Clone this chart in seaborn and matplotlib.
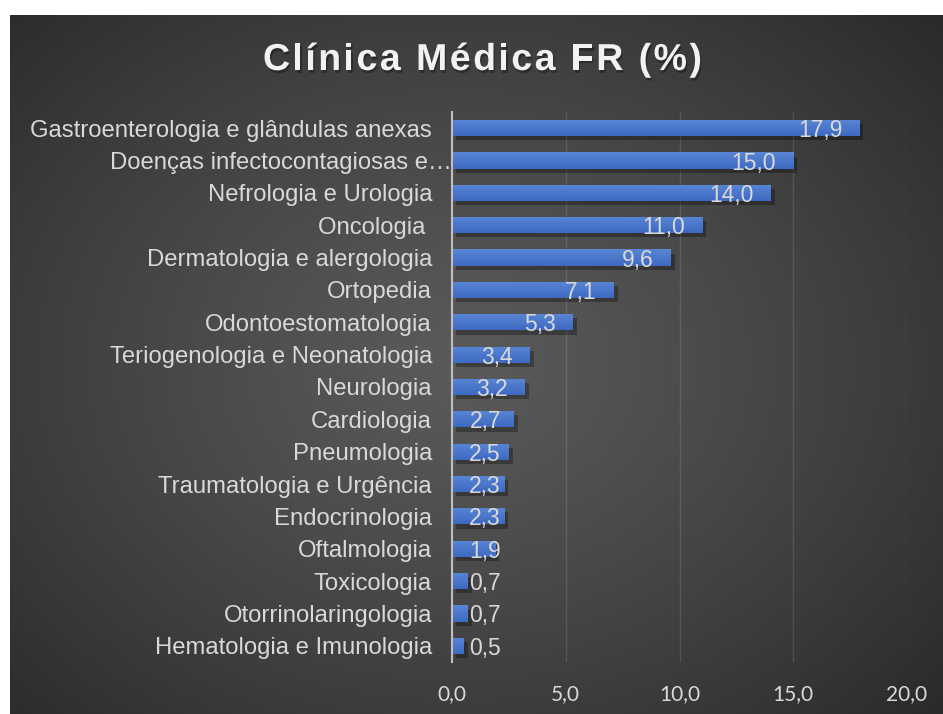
import matplotlib
matplotlib.use("Agg")
import matplotlib.pyplot as plt
import matplotlib.patheffects as pe
from matplotlib.colors import LinearSegmentedColormap
from matplotlib.font_manager import FontProperties
import matplotlib.transforms as mtransforms
import numpy as np
import seaborn as sns

categories = [
    "Gastroenterologia e glândulas anexas",
    "Doenças infectocontagiosas e…",
    "Nefrologia e Urologia",
    "Oncologia ",
    "Dermatologia e alergologia",
    "Ortopedia",
    "Odontoestomatologia",
    "Teriogenologia e Neonatologia",
    "Neurologia",
    "Cardiologia",
    "Pneumologia",
    "Traumatologia e Urgência",
    "Endocrinologia",
    "Oftalmologia",
    "Toxicologia",
    "Otorrinolaringologia",
    "Hematologia e Imunologia",
]
values = [17.9, 15.0, 14.0, 11.0, 9.6, 7.1, 5.3, 3.4, 3.2, 2.7, 2.5, 2.3, 2.3, 1.9, 0.7, 0.7, 0.5]
value_labels = ["17,9", "15,0", "14,0", "11,0", "9,6", "7,1", "5,3", "3,4", "3,2",
                "2,7", "2,5", "2,3", "2,3", "1,9", "0,7", "0,7", "0,5"]
x_ticks = [0, 5, 10, 15, 20]
x_tick_labels = ["0,0", "5,0", "10,0", "15,0", "20,0"]
title = "Clínica Médica FR (%)"

TEXT = "#d9d9d9"
BAR = "#4472C4"

sns.set_style("dark")
plt.rcParams["font.family"] = ["Liberation Sans", "DejaVu Sans"]

W, H = 943, 714
fig = plt.figure(figsize=(W / 100, H / 100), dpi=100)
fig.patch.set_facecolor("white")

# dark radial background panel
bg = fig.add_axes([10 / W, 0, 1 - 10 / W, 1 - 15 / H])
bg.set_axis_off()
gx, gy = np.meshgrid(np.linspace(0, 1, 400), np.linspace(0, 1, 300))
r = np.sqrt(((gx - 0.48) / 0.75) ** 2 + ((gy - 0.5) / 0.8) ** 2)
r = np.clip(r, 0, 1) ** 1.2
bg_cmap = LinearSegmentedColormap.from_list("bg", ["#5a5a5a", "#262626"])
bg.imshow(r, cmap=bg_cmap, vmin=0, vmax=1, aspect="auto", extent=(0, 1, 0, 1))
bg.set_xlim(0, 1)
bg.set_ylim(0, 1)

ax = fig.add_axes([452 / W, 1 - 662 / H, (907 - 452) / W, (662 - 112) / H])
ax.patch.set_alpha(0)

sns.barplot(x=values, y=categories, orient="h", color=BAR, width=0.5,
            saturation=1, linewidth=0, ax=ax, zorder=2)

grad_cmap = LinearSegmentedColormap.from_list("bar", ["#5a86d5", "#3d69c2"])
grad = np.linspace(0, 1, 32).reshape(-1, 1)
for p in ax.patches:
    p.set_linewidth(0)
    p.set_edgecolor("none")
    p.set_path_effects([pe.SimplePatchShadow(offset=(3, -3), shadow_rgbFace="black", alpha=0.3),
                        pe.Normal()])
    x0, y0 = p.get_x(), p.get_y()
    x1, y1 = x0 + p.get_width(), y0 + p.get_height()
    im = ax.imshow(grad, cmap=grad_cmap, aspect="auto", extent=(x0, x1, y1, y0),
                   zorder=2.5, interpolation="bilinear")
    im.set_clip_path(p)

ax.set_xlim(0, 20)
ax.set_ylim(len(categories) - 0.5, -0.5)

for i, (v, lab) in enumerate(zip(values, value_labels)):
    ax.text(max(v - 0.75, 2.15), i, lab, ha="right", va="center_baseline",
            color=TEXT, fontsize=16.5, zorder=3)

ax.set_xticks(x_ticks)
ax.set_xticklabels(x_tick_labels, family=["Lato", "DejaVu Sans"], fontsize=15, color=TEXT)
ax.tick_params(axis="x", length=0, pad=16)
ax.tick_params(axis="y", length=0, pad=14.4, labelsize=17.2, labelcolor=TEXT)
ax.grid(axis="x", color="white", alpha=0.12, lw=1)
ax.grid(axis="y", visible=False)
ax.set_xlabel("")
ax.set_ylabel("")
for s in ["top", "right", "bottom"]:
    ax.spines[s].set_visible(False)
ax.spines["left"].set_color("#bfbfbf")
ax.spines["left"].set_linewidth(1.5)
ax.spines["left"].set_zorder(4)

# truncated label sits a bit further right in the original
shift = mtransforms.ScaledTranslation(20 / 100, 0, fig.dpi_scale_trans)
lbl = ax.get_yticklabels()[1]
lbl.set_transform(lbl.get_transform() + shift)

# title with letter spacing
renderer = fig.canvas.get_renderer()
fp = FontProperties(family="Liberation Sans", weight="bold", size=27)
widths = [renderer.get_text_width_height_descent(c, fp, ismath=False)[0] for c in title]
target = 439
extra = (target - sum(widths)) / (len(title) - 1)
xpos = 482.5 - target / 2
for c, w in zip(title, widths):
    fig.text(xpos / W, 1 - 70 / H, c, fontproperties=fp, color="#f2f2f2",
             ha="left", va="baseline",
             path_effects=[pe.withSimplePatchShadow(offset=(1, -2), shadow_rgbFace="black", alpha=0.3)])
    xpos += w + extra

fig.savefig("out.png", dpi=100)
